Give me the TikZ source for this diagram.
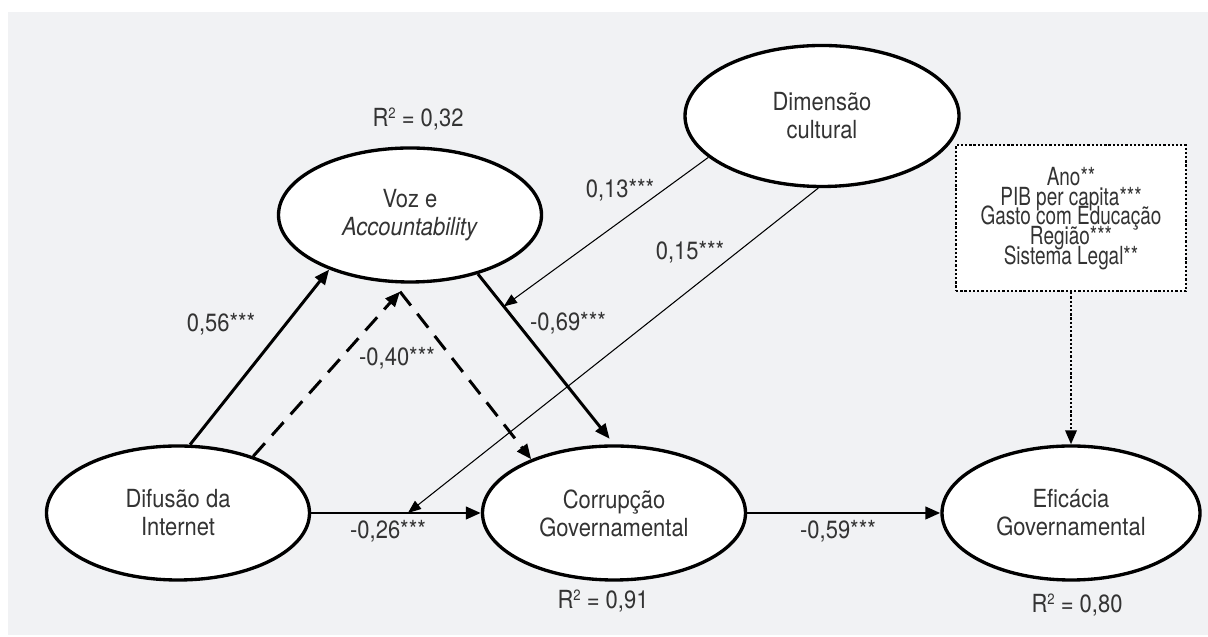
\documentclass[tikz,border=0pt]{standalone}
\usepackage{fontspec}
\setmainfont{TeX Gyre Heros}[FakeStretch=0.88]
\newfontfamily\narrowfont{TeX Gyre Heros}[FakeStretch=0.76]
\usetikzlibrary{shapes.geometric,arrows.meta,positioning}
\definecolor{panelgray}{HTML}{F1F2F4}
\definecolor{txtgray}{HTML}{333333}
\newcommand\tightlead{\lineskiplimit=-100pt\relax}
\newcommand\rsq{R\raisebox{0.62ex}{\fontsize{8.5}{8.5}\selectfont 2}}
\tikzset{
  latent/.style={ellipse, draw, line width=1.9pt, fill=white,
    minimum width=5.26cm, minimum height=2.68cm, inner sep=0pt,
    align=center, text=txtgray, font=\fontsize{14.2}{15.9}\selectfont},
  coef/.style={text=txtgray, font=\fontsize{14.2}{15.9}\selectfont, inner sep=1pt},
  controlbox/.style={rectangle, draw, line width=1.3pt, dash pattern=on 1.3pt off 1.1pt,
    fill=white, minimum width=4.6cm, minimum height=2.92cm, align=center, text=txtgray,
    text depth=2.5pt, font=\narrowfont\fontsize{14.2}{11.2}\selectfont\tightlead},
  effect/.style={line width=1.7pt, -{Triangle[length=8.5pt,width=7pt]}},
  mediated/.style={effect, dash pattern=on 10pt off 6pt},
  moderator/.style={line width=0.6pt, -{Triangle[length=7.5pt,width=5.8pt]}},
  control/.style={line width=1.3pt, dash pattern=on 1.3pt off 1.1pt,
    -{Triangle[length=8pt,width=6.5pt]}}
}
\begin{document}
\begin{tikzpicture}[node distance=2cm]
    \useasboundingbox (-3.56,-2.48) rectangle (20.60,10.26);
    \fill[panelgray] (-3.40,-2.44) rectangle (20.60,10.02);

    \node[latent] (Difusao) at (0,0) {Difusão da\\Internet};
    \node[latent] (Corrupcao) [right of=Difusao, node distance=8.72cm] {Corrupção\\Governamental};
    \node[latent, minimum width=5.16cm] (Eficacia) [right of=Corrupcao, node distance=9.14cm] {Eficácia\\Governamental};
    \node[latent] (Voz) at (4.64,5.96) {Voz e\\\textit{Accountability}};
    \node[latent, minimum width=5.48cm, minimum height=2.82cm] (Dimensao) at (12.88,7.94) {Dimensão\\cultural};
    \node[controlbox] (Controles) [above of=Eficacia, node distance=5.9cm]
      {Ano**\\PIB per capita***\\Gasto com Educação\\Região***\\Sistema Legal**};

    \node[coef] (RVoz) [above of=Voz, node distance=1.92cm, xshift=0.16cm] {\rsq{} = 0,32};
    \node[coef] (RCorrupcao) [below of=Corrupcao, node distance=1.76cm, xshift=-0.22cm] {\rsq{} = 0,91};
    \node[coef] (REficacia) [below of=Eficacia, node distance=1.84cm, xshift=0.12cm] {\rsq{} = 0,80};

    \coordinate (VozBase) at ([xshift=-0.2cm,yshift=-0.16cm]Voz.south);
    \draw[effect] (Difusao.80) -- (Voz.214);
    \draw[mediated] (Difusao.37) -- (VozBase);
    \draw[mediated] (VozBase) -- (Corrupcao.147);
    \draw[effect, shorten >=4pt] (Voz.319) -- coordinate[pos=0.19] (ModVoz) (Corrupcao.north);
    \draw[effect] (Difusao.east) -- coordinate[pos=0.57] (ModInt) (Corrupcao.west);
    \draw[effect] (Corrupcao.east) -- (Eficacia.west);
    \draw[moderator] (Dimensao.200) -- (ModVoz);
    \draw[moderator] (Dimensao.267) -- (ModInt);
    \draw[control] (Controles.south) -- (Eficacia.north);

    % coeficientes
    \node[coef] (cInfVoz) at (0.86,3.78) {0,56***};
    \node[coef] (cMed) at (4.38,3.10) {-0,40***};
    \node[coef] (cVozCor) at (7.80,3.80) {-0,69***};
    \node[coef] (cCult1) at (8.84,6.46) {0,13***};
    \node[coef] (cCult2) at (10.24,5.22) {0,15***};
    \node[coef] (cInfCor) at (4.20,-0.36) {-0,26***};
    \node[coef] (cCorEf) at (13.2,-0.36) {-0,59***};
  \end{tikzpicture}
\end{document}
